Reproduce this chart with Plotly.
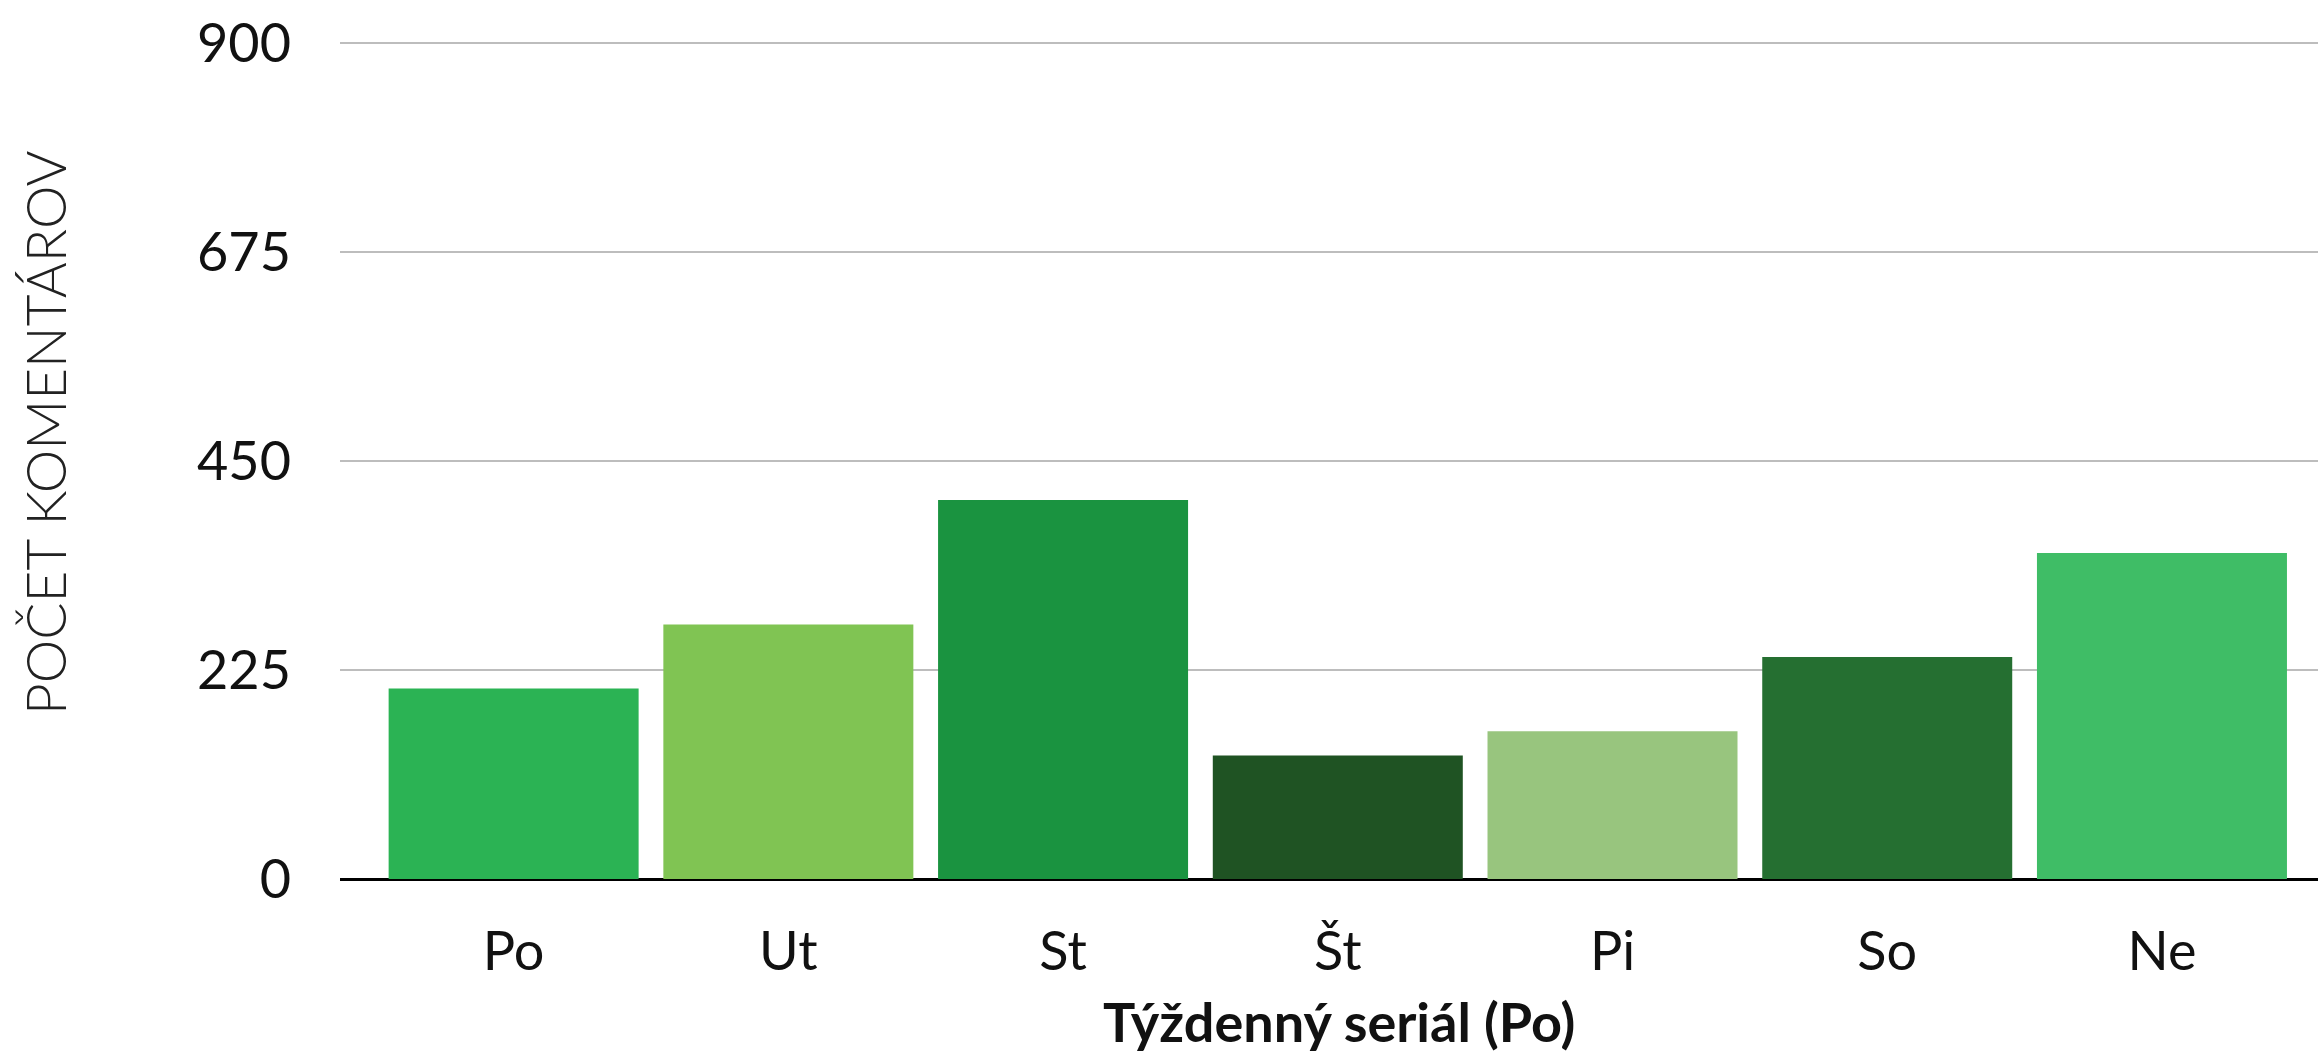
import plotly.graph_objects as go

days = ["Po", "Ut", "St", "Št", "Pi", "So", "Ne"]
comments = [205, 274, 408, 133, 159, 239, 351]
colors = ["#2BB354", "#80C453", "#1A9340", "#1F5323", "#98C57E", "#256F31", "#3FBD66"]
y_ticks = [0, 225, 450, 675, 900]

fig = go.Figure(go.Bar(
    x=days, y=comments,
    marker=dict(color=colors, line=dict(width=0)),
    width=0.91,
    hoverinfo="x+y",
))

W, H = 2318, 1056
L, R, T, B = 340, 0, 41, 177
y_top = 902

fig.update_layout(
    width=W, height=H,
    margin=dict(l=L, r=R, t=T, b=B, pad=0),
    paper_bgcolor="white", plot_bgcolor="white",
    showlegend=False,
    font=dict(family="Lato", size=54, color="#111111"),
    xaxis=dict(
        type="category",
        range=[-0.632, 6.568],
        automargin=False,
        showgrid=False,
        showline=False,
        ticks="",
        ticklabelstandoff=36,
        tickfont=dict(family="Lato", size=54, color="#111111"),
    ),
    yaxis=dict(
        range=[0, y_top],
        automargin=False,
        tickvals=y_ticks,
        ticktext=[str(v) for v in y_ticks],
        showgrid=True, gridcolor="#BDBDBD", gridwidth=2,
        zeroline=True, zerolinecolor="#000000", zerolinewidth=3,
        showline=False,
        ticks="",
        ticklabelstandoff=48,
        tickfont=dict(family="Lato", size=54, color="#111111"),
    ),
    annotations=[
        dict(
            text="POČET KOMENTÁROV",
            xref="paper", yref="paper",
            x=(45 - L) / (W - L - R), y=(H - B - 433) / (H - B - T),
            xanchor="center", yanchor="middle",
            textangle=-90, showarrow=False,
            font=dict(family="Lato Light, Lato", size=55, color="#222222"),
        ),
        dict(
            text="<b>Týždenný seriál (Po)</b>",
            xref="paper", yref="paper",
            x=(1339 - L) / (W - L - R), y=(H - B - 1021) / (H - B - T),
            xanchor="center", yanchor="middle",
            showarrow=False,
            font=dict(family="Lato", size=54, color="#111111"),
        ),
    ],
)

fig.write_html(
    "out.html",
    config={"displayModeBar": False},
    post_script="document.body.style.margin='0';document.body.style.overflow='hidden';",
)
